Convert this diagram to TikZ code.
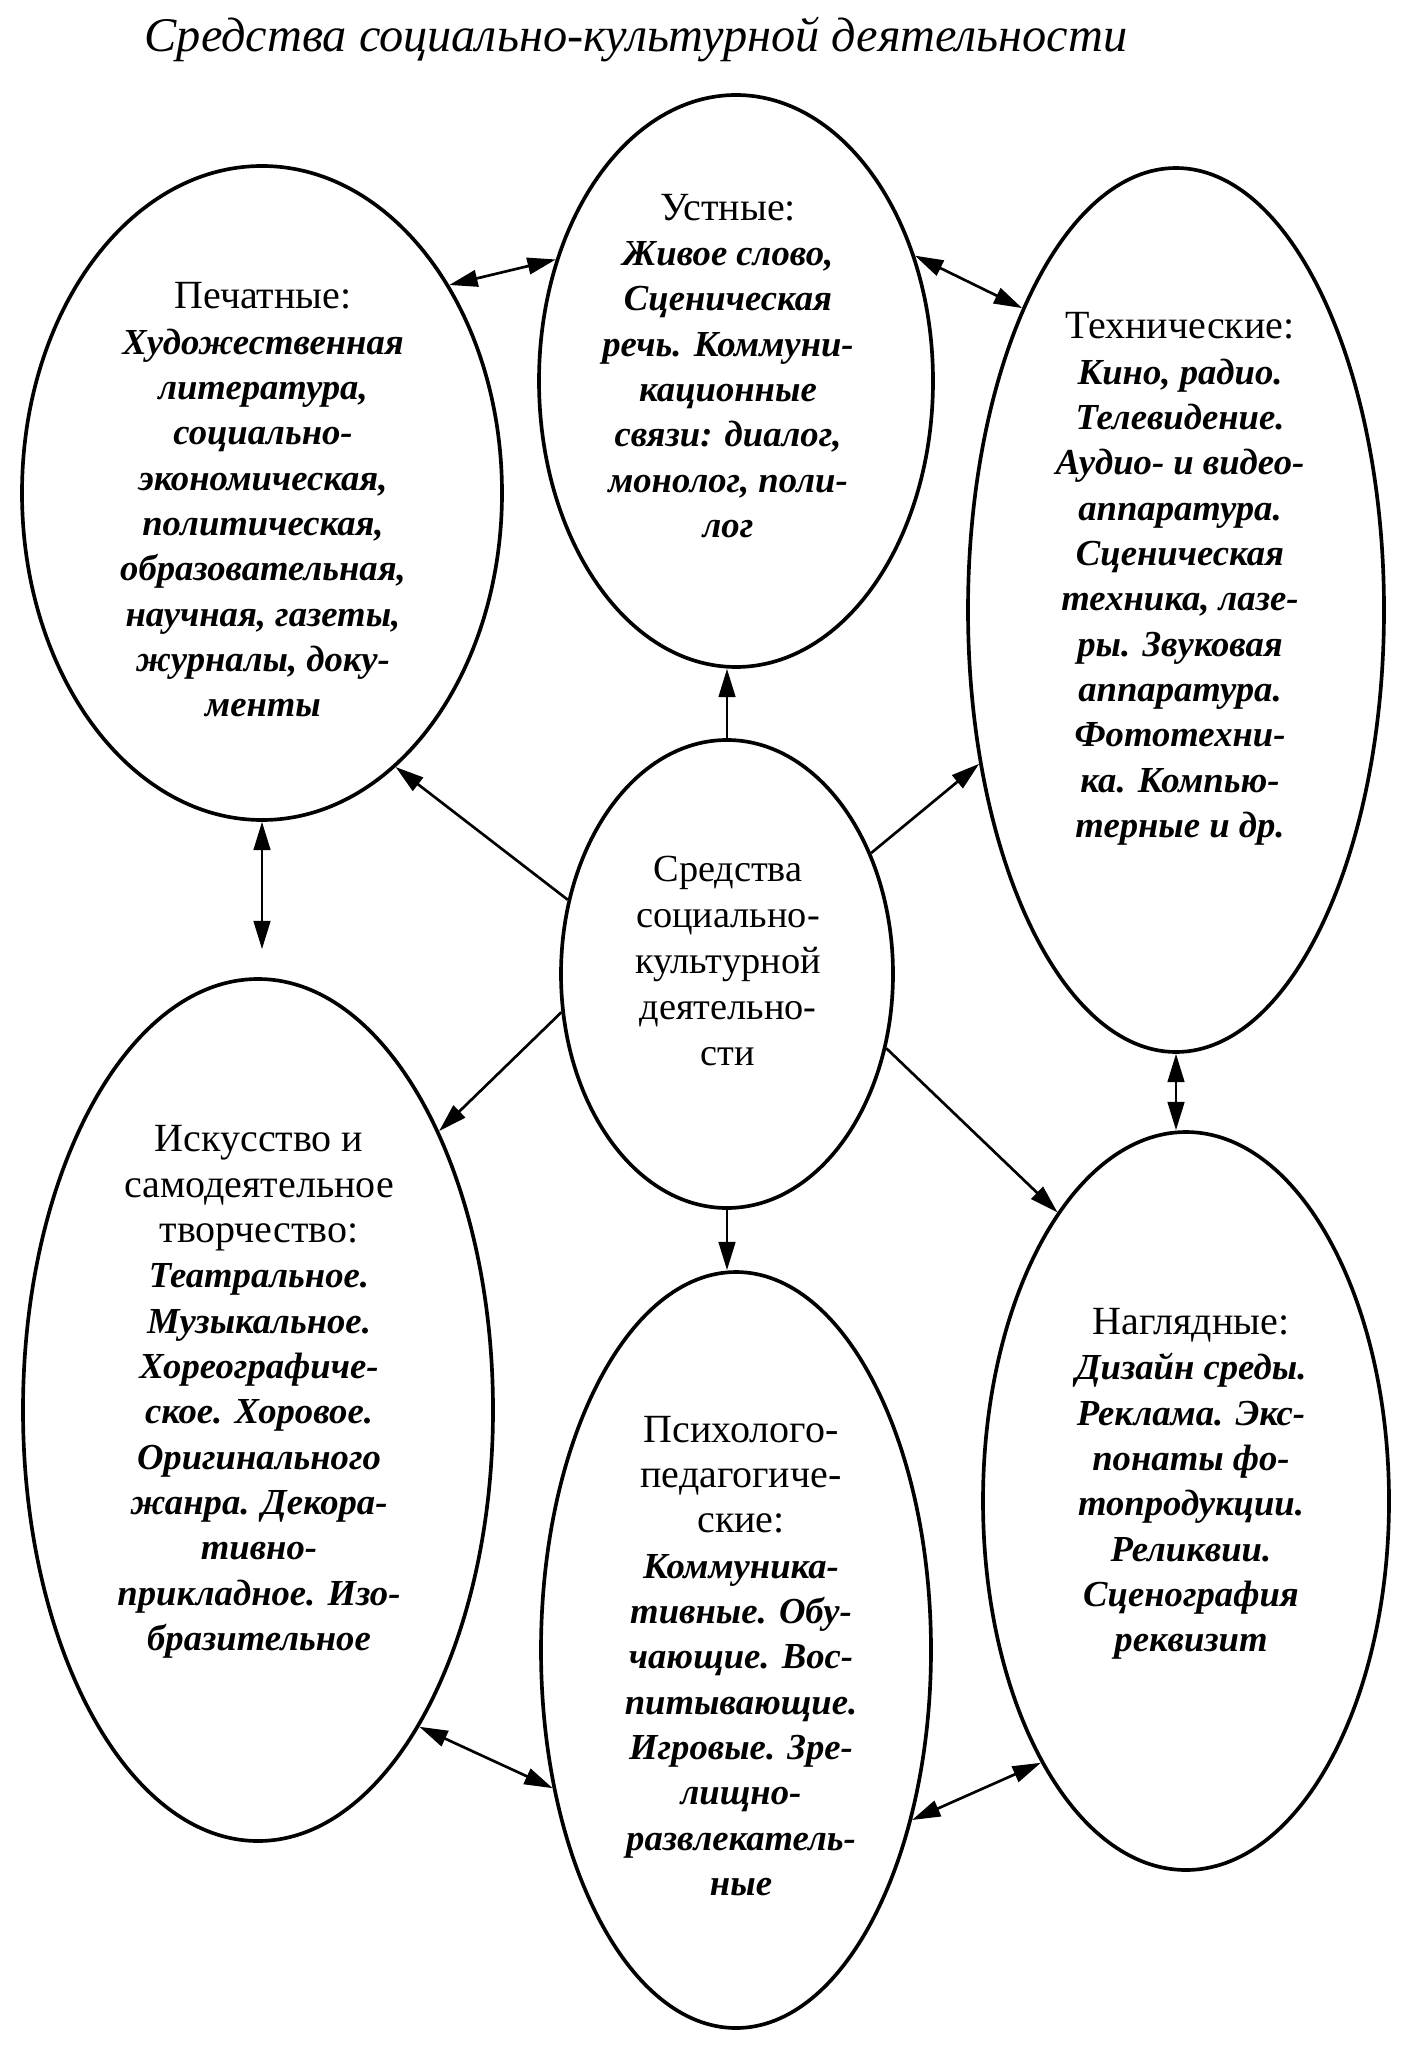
\documentclass[tikz,border=0pt]{standalone}
\usepackage{fontspec}
\setmainfont{Liberation Serif}
\usetikzlibrary{shapes.geometric,arrows.meta}

\newcommand{\hd}[1]{{\fontsize{12}{13.6}\selectfont\mdseries\upshape #1}}

\begin{document}
\begin{tikzpicture}[
    x=0.3pt, y=-0.3pt,
    oval/.style={ellipse, draw, line width=1.1pt, inner sep=0pt},
    txt/.style={align=center, inner sep=0pt, font=\fontsize{11}{13.6}\selectfont\bfseries\itshape},
    ctrtxt/.style={align=center, inner sep=0pt, font=\fontsize{11.5}{13.8}\selectfont},
    link/.style={-{Triangle[length=8.5pt,width=5pt]}, line width=0.8pt},
    both/.style={{Triangle[length=8.5pt,width=5pt]}-{Triangle[length=8.5pt,width=5pt]}, line width=0.8pt},
]
    \useasboundingbox (0,0) rectangle (1408,2064);

    \node[font=\fontsize{14.5}{16}\selectfont\itshape] (title) at (636,40) {Средства социально-культурной деятельности};

    % ellipses
    \node[oval, minimum width=144pt, minimum height=196.2pt] (pech) at (262,493) {};
    \node[oval, minimum width=118.2pt, minimum height=171.6pt] (ust) at (736,381) {};
    \node[oval, minimum width=124.8pt, minimum height=265.2pt] (tekh) at (1176,610) {};
    \node[oval, minimum width=99.6pt, minimum height=140.4pt] (ctr) at (727,974) {};
    \node[oval, minimum width=141pt, minimum height=258.6pt] (isk) at (258,1410) {};
    \node[oval, minimum width=117pt, minimum height=226.8pt] (psi) at (736,1650) {};
    \node[oval, minimum width=121.8pt, minimum height=221.4pt] (nagl) at (1186,1501) {};

    % texts
    \node[txt] (pechtext) at (263,500) {\hd{Печатные:}\\ Художественная\\ литература,\\ социально-\\ экономическая,\\ политическая,\\ образовательная,\\ научная, газеты,\\ журналы, доку-\\ менты};
    \node[txt] (usttext) at (728,366) {\hd{Устные:}\\ Живое слово,\\ Сценическая\\ речь. Коммуни-\\ кационные\\ связи: диалог,\\ монолог, поли-\\ лог};
    \node[txt] (tekhtext) at (1180,579) {\hd{Технические:}\\ Кино, радио.\\ Телевидение.\\ Аудио- и видео-\\ аппаратура.\\ Сценическая\\ техника, лазе-\\ ры. Звуковая\\ аппаратура.\\ Фототехни-\\ ка. Компью-\\ терные и др.};
    \node[ctrtxt] (ctrtext) at (728,961) {Средства\\ социально-\\ культурной\\ деятельно-\\ сти};
    \node[txt] (isktext) at (259,1392) {\hd{Искусство и}\\ \hd{самодеятельное}\\ \hd{творчество:}\\ Театральное.\\ Музыкальное.\\ Хореографиче-\\ ское. Хоровое.\\ Оригинального\\ жанра. Декора-\\ тивно-\\ прикладное. Изо-\\ бразительное};
    \node[txt] (psitext) at (741,1656) {\hd{Психолого-}\\ \hd{педагогиче-}\\ \hd{ские:}\\ Коммуника-\\ тивные. Обу-\\ чающие. Вос-\\ питывающие.\\ Игровые. Зре-\\ лищно-\\ развлекатель-\\ ные};
    \node[txt] (nagltext) at (1191,1484) {\hd{Наглядные:}\\ Дизайн среды.\\ Реклама. Экс-\\ понаты фо-\\ топродукции.\\ Реликвии.\\ Сценография\\ реквизит};

    % connectors
    \draw[link] (ctr.north) -- (ctr.north |- ust.south);
    \draw[link] (ctr.south) -- (ctr.south |- psi.north);
    \draw[link] (ctr.155) -- (pech.296);
    \draw[link] (ctr.40) -- (tekh.218);
    \draw[link] (ctr.193) -- (isk.57);
    \draw[link] (ctr.335) -- (nagl.114);
    \draw[both] (pech.48) -- (ust.146);
    \draw[both] (ust.35) -- (tekh.117);
    \draw[both, shorten >=8.4pt] (pech.south) -- (pech.south |- isk.north);
    \draw[both] (tekh.south) -- (tekh.south |- nagl.north);
    \draw[both] (isk.297) -- (psi.217);
    \draw[both] (psi.316) -- (nagl.241);
\end{tikzpicture}
\end{document}
